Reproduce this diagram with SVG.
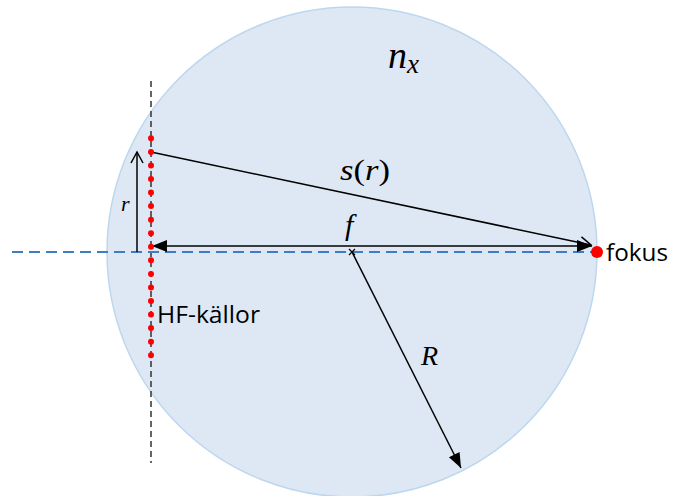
<svg xmlns="http://www.w3.org/2000/svg" width="684" height="496" viewBox="0 0 684 496">
<defs>
<style>
.math{font-family:"Liberation Serif","DejaVu Serif",serif;font-style:italic;fill:#000}
.lbl{font-family:"Open Sans","Liberation Sans",sans-serif;fill:#000}
.ln{stroke:#000;stroke-width:1.5;fill:none}
.dot{fill:#ff0000}
</style>
<marker id="open" markerWidth="14" markerHeight="14" refX="12" refY="7" orient="auto" markerUnits="userSpaceOnUse">
<path d="M1,1 L12,7 L1,13" fill="none" stroke="#000" stroke-width="1.5"/>
</marker>
<marker id="fill" markerWidth="16" markerHeight="14" refX="15" refY="7" orient="auto-start-reverse" markerUnits="userSpaceOnUse">
<path d="M0,1 L15,7 L0,13 Z" fill="#000"/>
</marker>
</defs>
<rect width="684" height="496" fill="#fff"/>
<g id="lens">
<circle cx="352" cy="252" r="245" fill="#dde8f4" stroke="#bdd7ee" stroke-width="1.5"/>
</g>
<g id="connectors">
<line x1="151" y1="81" x2="151" y2="463" stroke="#333" stroke-width="1.5" stroke-dasharray="6,4"/>
<line x1="12" y1="252" x2="592" y2="252" stroke="#3f7cc0" stroke-width="2" stroke-dasharray="11,6"/>
<line class="ln" x1="137" y1="252" x2="137" y2="152" marker-end="url(#open)"/>
<line class="ln" x1="151" y1="152" x2="591" y2="245" marker-end="url(#open)"/>
<line class="ln" x1="152" y1="246" x2="592" y2="246" marker-start="url(#fill)" marker-end="url(#fill)"/>
<line class="ln" x1="352" y1="252" x2="461" y2="468" marker-end="url(#fill)"/>
<path d="M349,249 L355,255 M355,249 L349,255" stroke="#000" stroke-width="1.2"/>
</g>
<g id="sources">
<circle class="dot" cx="151" cy="138.3" r="3"/>
<circle class="dot" cx="151" cy="151.9" r="3"/>
<circle class="dot" cx="151" cy="165.4" r="3"/>
<circle class="dot" cx="151" cy="179" r="3"/>
<circle class="dot" cx="151" cy="192.5" r="3"/>
<circle class="dot" cx="151" cy="206.1" r="3"/>
<circle class="dot" cx="151" cy="219.7" r="3"/>
<circle class="dot" cx="151" cy="233.2" r="3"/>
<circle class="dot" cx="151" cy="246.8" r="3"/>
<circle class="dot" cx="151" cy="260.3" r="3"/>
<circle class="dot" cx="151" cy="273.9" r="3"/>
<circle class="dot" cx="151" cy="287.5" r="3"/>
<circle class="dot" cx="151" cy="301" r="3"/>
<circle class="dot" cx="151" cy="314.6" r="3"/>
<circle class="dot" cx="151" cy="328.1" r="3"/>
<circle class="dot" cx="151" cy="341.7" r="3"/>
<circle class="dot" cx="151" cy="355.3" r="3"/>
<text class="lbl" x="157" y="323" font-size="23" textLength="103" lengthAdjust="spacingAndGlyphs">HF-källor</text>
</g>
<g id="focus">
<circle class="dot" cx="597" cy="252" r="6"/>
<text class="lbl" x="606" y="261" font-size="23" textLength="62" lengthAdjust="spacingAndGlyphs">fokus</text>
</g>
<g id="labels">
<text class="math" x="388" y="68" font-size="38">n<tspan font-size="27" dy="5">x</tspan></text>
<text class="math" x="340" y="180" font-size="29" textLength="50" lengthAdjust="spacingAndGlyphs">s<tspan font-style="normal">(</tspan>r<tspan font-style="normal">)</tspan></text>
<text class="math" x="345" y="235" font-size="30">f</text>
<text class="math" x="121" y="211" font-size="22">r</text>
<text class="math" x="421" y="365" font-size="28">R</text>
</g>
</svg>
